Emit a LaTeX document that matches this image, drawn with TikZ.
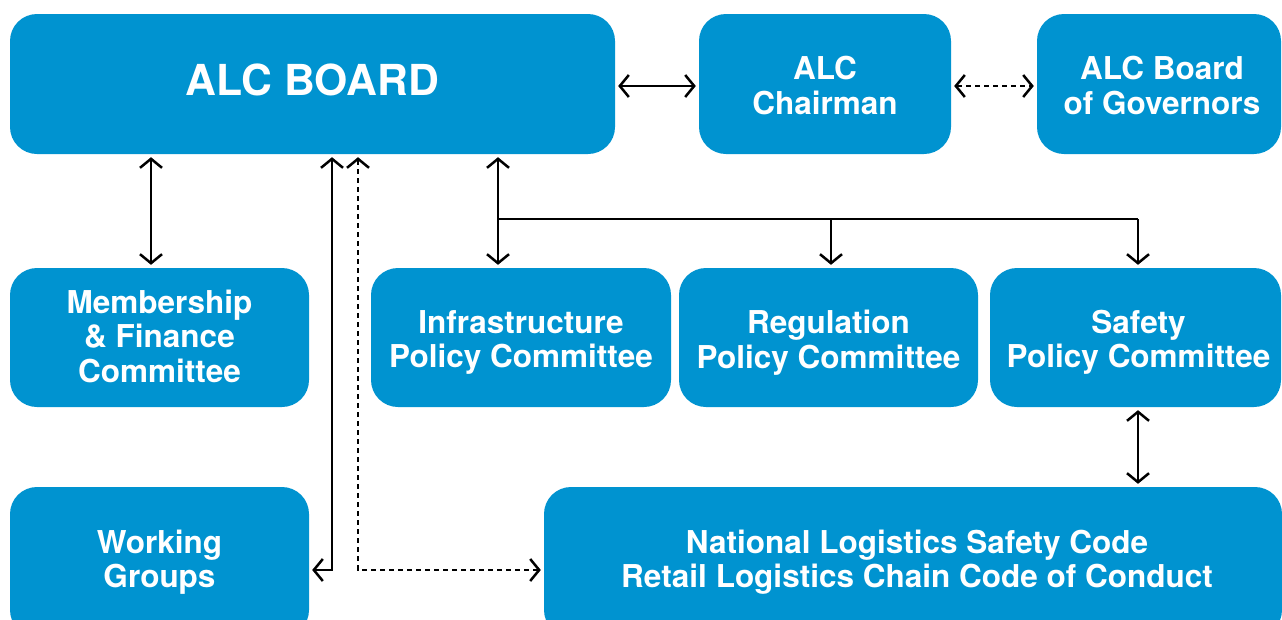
\documentclass[tikz,border=0pt]{standalone}
\usepackage{fontspec}
\setmainfont{TeX Gyre Heros}
\usetikzlibrary{arrows.meta,calc}
\definecolor{alcblue}{HTML}{0093D0}
\tikzset{
  box/.style={fill=alcblue, rounded corners=27pt, inner sep=0pt},
  txt/.style={text=white, align=center, inner sep=0pt,
    font=\fontsize{31.5}{34.5}\selectfont\bfseries},
  conn/.style={line width=2.5pt, black, {Straight Barb[length=9pt,width=22pt]}-{Straight Barb[length=9pt,width=22pt]}, shorten <=3pt, shorten >=3pt},
  connr/.style={line width=2.5pt, black, -{Straight Barb[length=9pt,width=22pt]}, shorten >=3pt},
  plain/.style={line width=2.5pt, black},
  dsh/.style={dash pattern=on 5pt off 4pt}
}
\begin{document}
\begin{tikzpicture}[x=1pt,y=-1pt]
\useasboundingbox (0,0) rectangle (1282,619);
\clip (0,0) rectangle (1282,619);
\node[box, minimum width=605pt, minimum height=140pt] (board) at (312.5,84) {};
\node[box, minimum width=252pt, minimum height=140pt] (chair) at (825,84) {};
\node[box, minimum width=244pt, minimum height=140pt] (gov) at (1159,84) {};
\node[box, minimum width=299pt, minimum height=139pt] (memb) at (159.5,337.5) {};
\node[box, minimum width=300pt, minimum height=139pt] (infra) at (521,337.5) {};
\node[box, minimum width=299pt, minimum height=139pt] (reg) at (828.5,337.5) {};
\node[box, minimum width=291pt, minimum height=139pt] (safe) at (1135.5,337.5) {};
\node[box, minimum width=299pt, minimum height=150pt] (wg) at (159.5,562) {};
\node[box, minimum width=738pt, minimum height=150pt] (nat) at (913,562) {};

\node[txt, font=\fontsize{42.7}{45}\selectfont\bfseries] (tboard) at ([yshift=4pt]board.center) {ALC BOARD};
\node[txt] (tchair) at ([yshift=-1.5pt]chair.center) {ALC\\Chairman};
\node[txt] (tgov) at ([xshift=3pt,yshift=-1.5pt]gov.center) {ALC Board\\of Governors};
\node[txt] (tmemb) at ([yshift=1.5pt]memb.center) {Membership\\\& Finance\\Committee};
\node[txt] (tinfra) at ([yshift=-5pt]infra.center) {Infrastructure\\Policy Committee};
\node[txt] (treg) at ([yshift=-5pt]reg.center) {Regulation\\Policy Committee};
\node[txt] (tsafe) at ([xshift=3pt,yshift=-5pt]safe.center) {Safety\\Policy Committee};
\node[txt] (twg) at ([yshift=0pt]wg.center) {Working\\Groups};
\node[txt] (tnat) at ([xshift=4pt,yshift=0pt]nat.center) {National Logistics Safety Code\\Retail Logistics Chain Code of Conduct};

\coordinate (hA) at (0,86);
\coordinate (xM) at (151,0);
\coordinate (xI) at (498,0);
\coordinate (xR) at (831,0);
\coordinate (xS) at (1138,0);
\coordinate (yB) at (0,219);
\coordinate (xW) at (332,0);
\coordinate (xD) at (358,0);
\coordinate (yL) at (0,570);

\draw[conn] (board.east |- hA) -- (chair.west |- hA);
\draw[conn, dsh] (chair.east |- hA) -- (gov.west |- hA);
\draw[conn] (board.south -| xM) -- (memb.north -| xM);
\draw[conn] (board.south -| xI) -- (infra.north -| xI);
\draw[plain] (xI |- yB) -- (xS |- yB);
\draw[connr] (xR |- yB) -- (reg.north -| xR);
\draw[connr] (xS |- yB) -- (safe.north -| xS);
\draw[conn] (safe.south -| xS) -- (nat.north -| xS);
\draw[conn] (board.south -| xW) -- (xW |- yL) -- (wg.east |- yL);
\draw[conn, dsh] (board.south -| xD) -- (xD |- yL) -- (nat.west |- yL);
\end{tikzpicture}
\end{document}
